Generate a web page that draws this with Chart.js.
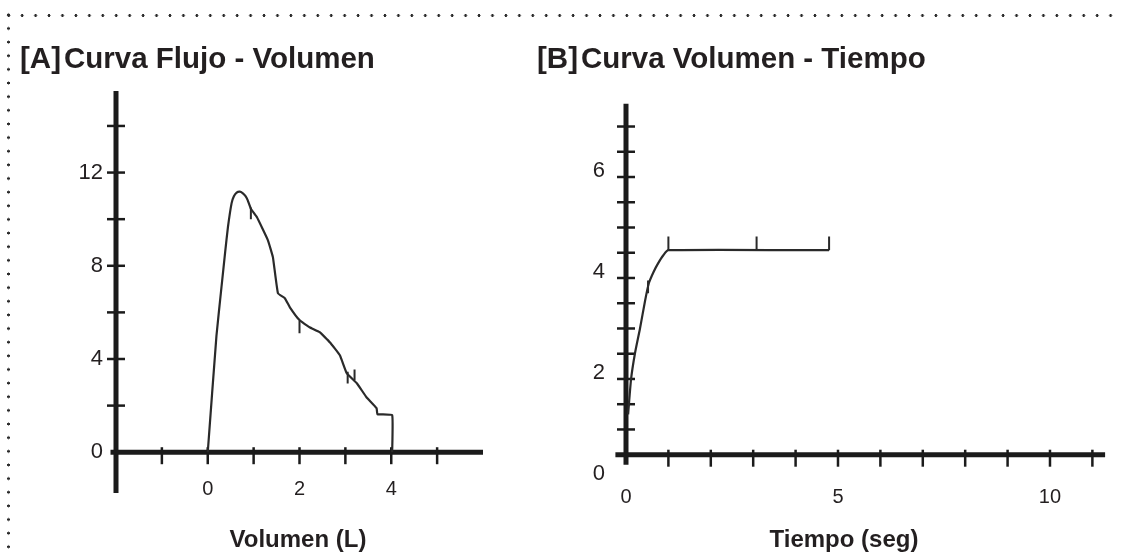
<!DOCTYPE html>
<html><head><meta charset="utf-8">
<script src="https://cdn.jsdelivr.net/npm/chart.js@4.4.1/dist/chart.umd.min.js"></script>
<style>
html,body{margin:0;padding:0;background:#fff;}
body{width:1121px;height:556px;position:relative;overflow:hidden;font-family:"Liberation Sans",Arial,sans-serif;color:#231f20;}
.dots-top{position:absolute;left:2px;top:13.5px;width:1117px;height:3px;background-image:radial-gradient(circle,#2a2a2a 1.2px,rgba(0,0,0,0) 1.7px);background-size:13.45px 3px;background-repeat:repeat-x;}
.dots-left{position:absolute;left:7px;top:8px;width:3px;height:548px;background-image:radial-gradient(circle,#2a2a2a 1.2px,rgba(0,0,0,0) 1.7px);background-size:3px 13.65px;background-repeat:repeat-y;}
.titulo{position:absolute;top:43px;font-weight:bold;font-size:29.5px;line-height:29.5px;white-space:nowrap;}
.eje{position:absolute;top:527px;font-weight:bold;font-size:24px;line-height:24px;white-space:nowrap;text-align:center;width:300px;}
canvas{position:absolute;top:0;}
</style></head>
<body>
<canvas id="cA" width="560" height="556" style="left:0"></canvas>
<canvas id="cB" width="561" height="556" style="left:560px"></canvas>
<div class="dots-top"></div><div class="dots-left"></div>
<div class="titulo" style="left:20px">[A]<span style="margin-left:3px">Curva Flujo - Volumen</span></div>
<div class="titulo" style="left:537px">[B]<span style="margin-left:3px">Curva Volumen - Tiempo</span></div>
<div class="eje" style="left:148px">Volumen (L)</div>
<div class="eje" style="left:694px">Tiempo (seg)</div>
<script>
// ---- Datos: Curva Flujo - Volumen ----
const volumenA = [0, 0.19, 0.3, 0.38, 0.44, 0.52, 0.57, 0.63, 0.7, 0.76, 0.82, 0.87, 0.94, 1.07, 1.31, 1.42, 1.53, 1.68, 1.79, 2.0, 2.22, 2.44, 2.66, 2.88, 3.03, 3.25, 3.46, 3.68, 3.7, 4.02, 4.02];
const flujoA   = [0, 5.0, 7.1, 8.6, 9.66, 10.69, 10.98, 11.14, 11.18, 11.12, 11.0, 10.82, 10.45, 10.09, 9.1, 8.37, 6.82, 6.61, 6.22, 5.67, 5.36, 5.15, 4.72, 4.16, 3.39, 2.96, 2.36, 1.89, 1.63, 1.59, 0];
const marcasVolA = [0.94, 0.94, null, 2.0, 2.0, null, 3.05, 3.05, null, 3.2, 3.2];
const marcasFluA = [10.5, 10.0, null, 5.65, 5.1, null, 3.45, 2.95, null, 3.55, 3.1];
const ticksEjeXA = [-1, 0, 1, 2, 3, 4, 5];
const etiquetasXA = [0, 2, 4];
const ticksEjeYA = [2, 4, 6, 8, 10, 12, 14];
const etiquetasYA = [0, 4, 8, 12];

// ---- Datos: Curva Volumen - Tiempo ----
const tiempoB  = [0.05, 0.12, 0.21, 0.33, 0.45, 0.54, 0.65, 0.75, 0.88, 1.0, 4.79];
const volumenB = [1.3, 2.0, 2.5, 3.0, 3.55, 3.9, 4.12, 4.28, 4.45, 4.55, 4.55];
const marcasTiempoB = [1.0, 1.0, null, 3.08, 3.08, null, 4.79, 4.79, null, 0.52, 0.52];
const marcasVolB    = [4.55, 4.82, null, 4.55, 4.82, null, 4.55, 4.82, null, 3.95, 3.7];
const ticksEjeXB = [1, 2, 3, 4, 5, 6, 7, 8, 9, 10, 11];
const etiquetasXB = [0, 5, 10];
const ticksEjeYB = [1, 1.5, 2, 2.5, 3, 3.5, 4, 4.5, 5, 5.5, 6, 6.5, 7];
const etiquetasYB = [0, 2, 4, 6];

const INK = '#231f20';

function puntos(xs, ys) { return xs.map((v, i) => ({ x: v, y: ys[i] })); }

const ejesPlugin = {
  id: 'ejes',
  beforeDatasetsDraw(chart, args, o) {
    const { ctx } = chart;
    const sx = chart.scales.x, sy = chart.scales.y;
    const xa = sx.getPixelForValue(o.yAxisAt);
    const ya = sy.getPixelForValue(o.xAxisAt);
    ctx.save();
    ctx.strokeStyle = '#1b1b1b';
    ctx.lineCap = 'butt';
    ctx.lineWidth = 5;
    ctx.beginPath();
    ctx.moveTo(xa, sy.getPixelForValue(o.yFrom));
    ctx.lineTo(xa, sy.getPixelForValue(o.yTo));
    ctx.stroke();
    ctx.beginPath();
    ctx.moveTo(sx.getPixelForValue(o.xFrom), ya);
    ctx.lineTo(sx.getPixelForValue(o.xTo), ya);
    ctx.stroke();
    ctx.lineWidth = 2.5;
    o.yTicks.forEach(v => {
      const p = sy.getPixelForValue(v);
      ctx.beginPath(); ctx.moveTo(xa - 9, p); ctx.lineTo(xa + 9, p); ctx.stroke();
    });
    o.xTicks.forEach(v => {
      const p = sx.getPixelForValue(v);
      ctx.beginPath(); ctx.moveTo(p, ya - 5); ctx.lineTo(p, ya + 12); ctx.stroke();
    });
    ctx.fillStyle = INK;
    ctx.textBaseline = 'middle';
    ctx.textAlign = 'right';
    ctx.font = o.yFont + 'px "Liberation Sans", Arial, sans-serif';
    o.yLabels.forEach(v => ctx.fillText(String(v), xa - o.yGap, sy.getPixelForValue(v) + o.yShift));
    ctx.textAlign = 'center';
    ctx.font = o.xFont + 'px "Liberation Sans", Arial, sans-serif';
    o.xLabels.forEach(v => ctx.fillText(String(v), sx.getPixelForValue(v), ya + o.xGap));
    ctx.restore();
  }
};

function opciones(pad, xr, yr, ejes) {
  return {
    responsive: false, animation: false, devicePixelRatio: 1, events: [],
    layout: { padding: pad },
    scales: {
      x: { type: 'linear', min: xr[0], max: xr[1], display: false },
      y: { type: 'linear', min: yr[0], max: yr[1], display: false }
    },
    plugins: { legend: { display: false }, tooltip: { enabled: false }, ejes: ejes }
  };
}

new Chart(document.getElementById('cA'), {
  type: 'line',
  data: { datasets: [
    { data: puntos(volumenA, flujoA), borderColor: '#2a2a2a', borderWidth: 2.2, pointRadius: 0, tension: 0.1, fill: false, borderJoinStyle: 'round', clip: false },
    { data: puntos(marcasVolA, marcasFluA), borderColor: '#2a2a2a', borderWidth: 2, pointRadius: 0, spanGaps: false, fill: false, clip: false }
  ]},
  options: opciones({ left: 116, right: 77, top: 91, bottom: 63 }, [-2, 6], [-1.75, 15.5], {
    yAxisAt: -2, yFrom: -1.75, yTo: 15.5, xAxisAt: 0, xFrom: -2.12, xTo: 6,
    yTicks: ticksEjeYA, xTicks: ticksEjeXA, yLabels: etiquetasYA, xLabels: etiquetasXA,
    yFont: 22, yGap: 13, yShift: 0, xFont: 20, xGap: 37
  }),
  plugins: [ejesPlugin]
});

new Chart(document.getElementById('cB'), {
  type: 'line',
  data: { datasets: [
    { data: puntos(tiempoB, volumenB), borderColor: '#2a2a2a', borderWidth: 2.2, pointRadius: 0, tension: 0.2, fill: false, borderJoinStyle: 'round', clip: false },
    { data: puntos(marcasTiempoB, marcasVolB), borderColor: '#2a2a2a', borderWidth: 2, pointRadius: 0, spanGaps: false, fill: false, clip: false }
  ]},
  options: opciones({ left: 55.4, right: 15.9, top: 103.8, bottom: 91.2 }, [-0.25, 11.3], [0.3, 7.45], {
    yAxisAt: 0, yFrom: 0.3, yTo: 7.45, xAxisAt: 0.5, xFrom: -0.25, xTo: 11.3,
    yTicks: ticksEjeYB, xTicks: ticksEjeXB, yLabels: etiquetasYB, xLabels: etiquetasXB,
    yFont: 22, yGap: 21, yShift: -6, xFont: 20, xGap: 43
  }),
  plugins: [ejesPlugin]
});
</script>
</body></html>
